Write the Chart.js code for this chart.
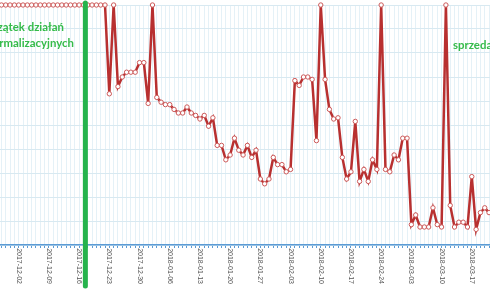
<!DOCTYPE html>
<html>
<head>
<meta charset="utf-8">
<script src="https://cdn.jsdelivr.net/npm/chart.js@4.4.1/dist/chart.umd.min.js"></script>
<style>
  html, body { margin: 0; padding: 0; background: #fff; }
  #wrap { width: 490px; height: 290px; position: relative; }
</style>
</head>
<body>
<div id="wrap"><canvas id="myChart"></canvas></div>
<script>
// daily series, first value belongs to 2017-11-27
var startDate = '2017-11-27';
var labelStart = '2017-12-02';   // weekly tick labels counted from this day
var values = [
  10, 10, 10, 10, 10, 10, 10, 10, 10, 10, 10, 10, 10, 10, 10, 10, 10, 10, 10, 10,
  10, 10, 10, 10, 10, 10, 6.3, 10, 6.6, 7.0, 7.2, 7.2, 7.2, 7.6, 7.6, 5.9,
  10, 6.15, 5.95, 5.85, 5.85, 5.65, 5.5, 5.5, 5.75, 5.5, 5.4, 5.25, 5.4, 4.95, 5.3,
  4.15, 4.15, 3.55, 3.75, 4.45, 3.95, 3.75, 4.15, 3.65, 3.95, 2.75, 2.55, 2.75,
  3.65, 3.35, 3.35, 3.05, 3.15, 6.85, 6.65, 7.0, 7.0, 6.9, 4.35, 10, 6.9, 5.65,
  5.25, 5.3, 3.65, 2.75, 3.05, 5.15, 2.65, 3.15, 2.65, 3.55, 3.15, 10, 3.15, 3.05,
  3.75, 3.55, 4.45, 4.45, 0.85, 1.25, 0.75, 0.75, 0.75, 1.55, 0.85, 0.75, 10,
  1.65, 0.75, 0.95, 0.95, 0.75, 2.85, 0.65, 1.35, 1.55, 1.35
];
var eventDay = 15.45;   // start of the normalisation, days after labelStart

var DAY = 86400000;
var t0 = Date.parse(labelStart + 'T00:00:00Z');
var first = Date.parse(startDate + 'T00:00:00Z');
var dates = values.map(function (v, i) {
  return new Date(first + i * DAY).toISOString().slice(0, 10);
});
var points = dates.map(function (d, i) {
  return { x: (Date.parse(d + 'T00:00:00Z') - t0) / DAY, y: values[i] };
});

var notes = {
  id: 'notes',
  afterDraw: function (chart) {
    var c = chart.ctx;
    var x = chart.scales.x.getPixelForValue(eventDay);
    c.save();
    c.strokeStyle = '#26b34c';
    c.lineWidth = 5;
    c.lineCap = 'round';
    c.beginPath();
    c.moveTo(x, 3);
    c.lineTo(x, 286);
    c.stroke();
    c.fillStyle = '#35bb4a';
    c.font = 'bold 11.4px Lato';
    c.textBaseline = 'middle';
    c.textAlign = 'right';
    c.fillText('Początek działań', 64, 27);
    c.fillText('normalizacyjnych', 74, 43);
    c.textAlign = 'left';
    c.fillText('sprzedaż', 453, 45);
    c.restore();
  }
};

Chart.defaults.font.family = 'Liberation Sans';

var ctx = document.getElementById('myChart').getContext('2d');
var myChart = new Chart(ctx, {
  type: 'line',
  data: {
    datasets: [{
      data: points,
      borderColor: '#b83030',
      borderWidth: 2.5,
      pointRadius: 2.2,
      pointBorderWidth: 1,
      pointBorderColor: '#cc5a5a',
      pointBackgroundColor: '#ffffff',
      tension: 0,
      clip: 5
    }]
  },
  options: {
    responsive: true,
    maintainAspectRatio: false,
    animation: false,
    layout: { autoPadding: false, padding: { top: 5, left: 0, right: 0, bottom: 0 } },
    plugins: { legend: { display: false }, tooltip: { enabled: false } },
    scales: {
      x: {
        type: 'linear',
        min: -4.334,
        max: 109.22,
        grid: { color: '#e5f1f7', tickColor: '#5b9bd5', tickLength: 3, tickWidth: 1 },
        border: { color: '#5b9bd5', width: 1.5 },
        ticks: {
          stepSize: 1,
          includeBounds: false,
          autoSkip: false,
          minRotation: -90,
          maxRotation: -90,
          padding: 36,
          color: '#555555',
          font: { size: 7 },
          callback: function (value) {
            if (value < 0 || value % 7 !== 0) return '';
            return new Date(t0 + value * DAY).toISOString().slice(0, 10);
          }
        },
        afterFit: function (scale) {
          scale.height = 45;
          scale.paddingLeft = 0;
          scale.paddingRight = 0;
        }
      },
      y: {
        min: 0,
        max: 10,
        grid: { color: '#d8e9f1', drawTicks: false },
        border: { display: false },
        ticks: { display: false, stepSize: 1 },
        afterFit: function (scale) { scale.width = 0; }
      }
    }
  },
  plugins: [notes]
});
</script>
</body>
</html>
